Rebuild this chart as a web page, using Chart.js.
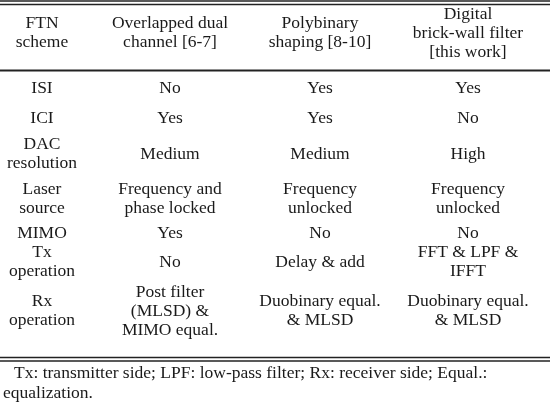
<!DOCTYPE html>
<html><head><meta charset="utf-8">
<script src="https://cdn.jsdelivr.net/npm/chart.js@4/dist/chart.umd.min.js"></script>
<style>html,body{margin:0;padding:0;background:#fff}canvas{display:block}</style>
</head><body>
<canvas id="c" width="550" height="404"></canvas>
<script>
// table content
const headers = [["FTN","scheme"],["Overlapped dual","channel [6-7]"],["Polybinary","shaping [8-10]"],["Digital","brick-wall filter","[this work]"]];
const rowLabels = [["ISI"],["ICI"],["DAC","resolution"],["Laser","source"],["MIMO"],["Tx","operation"],["Rx","operation"]];
const overlapped = [["No"],["Yes"],["Medium"],["Frequency and","phase locked"],["Yes"],["No"],["Post filter","(MLSD) &","MIMO equal."]];
const polybinary = [["Yes"],["Yes"],["Medium"],["Frequency","unlocked"],["No"],["Delay & add"],["Duobinary equal.","& MLSD"]];
const brickwall = [["Yes"],["No"],["High"],["Frequency","unlocked"],["No"],["FFT & LPF &","IFFT"],["Duobinary equal.","& MLSD"]];
const footnote = ["Tx: transmitter side; LPF: low-pass filter; Rx: receiver side; Equal.:","equalization."];

const colX = [42, 170, 320, 468];
const headerY = 33;
const rowY = [88, 118, 154, 199, 233, 262, 311];
const lineH = 19;

const tablePlugin = {
  id: 'table',
  afterDraw(chart) {
    const ctx = chart.ctx, sx = chart.scales.x, sy = chart.scales.y;
    const X = v => sx.getPixelForValue(v), Y = v => sy.getPixelForValue(v);
    ctx.save();
    ctx.fillStyle = '#1a1a1a';
    ctx.font = '17.5px "Liberation Serif", "DejaVu Serif", serif';
    ctx.textAlign = 'center';
    ctx.textBaseline = 'middle';
    function cell(lines, cx, cy) {
      const top = cy - (lines.length - 1) * lineH / 2;
      lines.forEach((t, i) => ctx.fillText(t, X(cx), Y(top + i * lineH)));
    }
    headers.forEach((h, i) => cell(h, colX[i], headerY));
    const cols = [rowLabels, overlapped, polybinary, brickwall];
    cols.forEach((col, ci) => col.forEach((c, ri) => cell(c, colX[ci], rowY[ri])));
    ctx.textAlign = 'left';
    ctx.fillText(footnote[0], X(14), Y(373));
    ctx.fillText(footnote[1], X(3), Y(393));
    ctx.strokeStyle = '#222';
    function hline(y, w) {
      ctx.lineWidth = w;
      ctx.beginPath(); ctx.moveTo(X(0), Y(y)); ctx.lineTo(X(550), Y(y)); ctx.stroke();
    }
    hline(1, 1.5); hline(4.5, 1.5);
    hline(70.5, 2);
    hline(357.5, 1.5); hline(361, 1.5);
    ctx.restore();
  }
};

new Chart(document.getElementById('c'), {
  type: 'scatter',
  data: { datasets: [] },
  options: {
    responsive: false,
    animation: false,
    layout: { padding: 0 },
    plugins: { legend: { display: false }, tooltip: { enabled: false } },
    scales: {
      x: { type: 'linear', min: 0, max: 550, display: false },
      y: { type: 'linear', min: 0, max: 404, reverse: true, display: false }
    }
  },
  plugins: [tablePlugin]
});
</script>
</body></html>
